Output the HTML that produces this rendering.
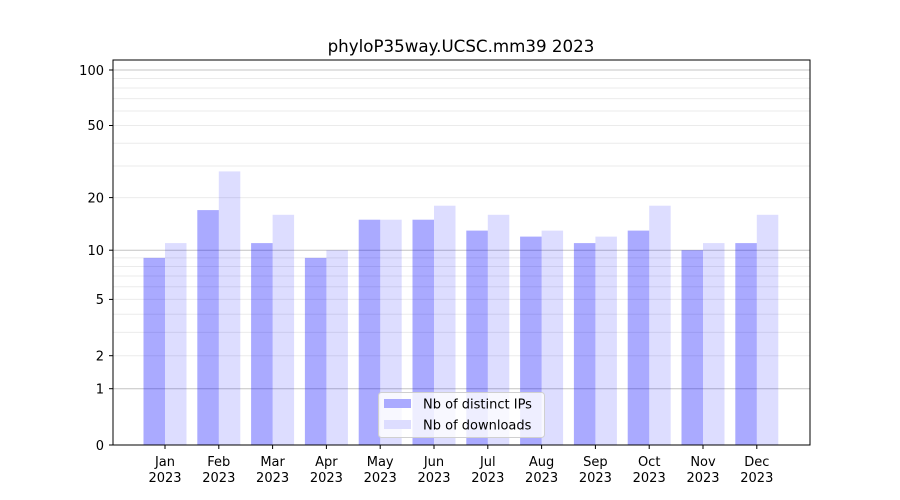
<!DOCTYPE html>
<html><head><meta charset="utf-8"><style>body{margin:0;background:#fff}svg{display:block;font-family:"DejaVu Sans","Liberation Sans",sans-serif}</style></head><body>
<svg width="900" height="500" viewBox="0 0 900 500">
<rect width="900" height="500" fill="#fff"/>
<g stroke="#ebebeb" stroke-width="1">
<line x1="113" x2="810" y1="355.7" y2="355.7"/><line x1="113" x2="810" y1="332.4" y2="332.4"/><line x1="113" x2="810" y1="314.2" y2="314.2"/><line x1="113" x2="810" y1="299.4" y2="299.4"/><line x1="113" x2="810" y1="286.8" y2="286.8"/><line x1="113" x2="810" y1="276" y2="276"/><line x1="113" x2="810" y1="266.5" y2="266.5"/><line x1="113" x2="810" y1="257.9" y2="257.9"/>
<line x1="113" x2="810" y1="197.6" y2="197.6"/><line x1="113" x2="810" y1="166" y2="166"/><line x1="113" x2="810" y1="143.2" y2="143.2"/><line x1="113" x2="810" y1="125.5" y2="125.5"/><line x1="113" x2="810" y1="111" y2="111"/><line x1="113" x2="810" y1="98.6" y2="98.6"/><line x1="113" x2="810" y1="88" y2="88"/><line x1="113" x2="810" y1="78.5" y2="78.5"/>
</g>
<g stroke="#c4c4c4" stroke-width="1"><line x1="113" x2="810" y1="388.7" y2="388.7"/><line x1="113" x2="810" y1="250.2" y2="250.2"/><line x1="113" x2="810" y1="70" y2="70"/></g>
<g fill="#0000ff" fill-opacity="0.333">
<rect x="143.5" y="257.9" width="21.5" height="187.1"/>
<rect x="197.3" y="210.1" width="21.5" height="234.9"/>
<rect x="251.1" y="243.1" width="21.5" height="201.9"/>
<rect x="304.9" y="257.9" width="21.5" height="187.1"/>
<rect x="358.7" y="219.7" width="21.5" height="225.3"/>
<rect x="412.5" y="219.7" width="21.5" height="225.3"/>
<rect x="466.3" y="230.6" width="21.5" height="214.4"/>
<rect x="520.1" y="236.6" width="21.5" height="208.4"/>
<rect x="573.9" y="243.1" width="21.5" height="201.9"/>
<rect x="627.7" y="230.6" width="21.5" height="214.4"/>
<rect x="681.5" y="250.2" width="21.5" height="194.8"/>
<rect x="735.3" y="243.1" width="21.5" height="201.9"/>
</g>
<g fill="#0000ff" fill-opacity="0.135">
<rect x="165" y="243.1" width="21.5" height="201.9"/>
<rect x="218.8" y="171.4" width="21.5" height="273.6"/>
<rect x="272.6" y="214.8" width="21.5" height="230.2"/>
<rect x="326.4" y="250.2" width="21.5" height="194.8"/>
<rect x="380.2" y="219.7" width="21.5" height="225.3"/>
<rect x="434" y="205.7" width="21.5" height="239.3"/>
<rect x="487.8" y="214.8" width="21.5" height="230.2"/>
<rect x="541.6" y="230.6" width="21.5" height="214.4"/>
<rect x="595.4" y="236.6" width="21.5" height="208.4"/>
<rect x="649.2" y="205.7" width="21.5" height="239.3"/>
<rect x="703" y="243.1" width="21.5" height="201.9"/>
<rect x="756.8" y="214.8" width="21.5" height="230.2"/>
</g>
<rect x="113" y="60" width="697" height="385" fill="none" stroke="#000" stroke-width="1"/>
<g stroke="#000"><line x1="109" x2="113" y1="445" y2="445"/><line x1="109" x2="113" y1="388.7" y2="388.7"/><line x1="109" x2="113" y1="355.7" y2="355.7"/><line x1="109" x2="113" y1="299.4" y2="299.4"/><line x1="109" x2="113" y1="250.2" y2="250.2"/><line x1="109" x2="113" y1="197.6" y2="197.6"/><line x1="109" x2="113" y1="125.5" y2="125.5"/><line x1="109" x2="113" y1="70" y2="70"/>
<line x1="165" x2="165" y1="445" y2="449"/><line x1="218.8" x2="218.8" y1="445" y2="449"/><line x1="272.6" x2="272.6" y1="445" y2="449"/><line x1="326.4" x2="326.4" y1="445" y2="449"/><line x1="380.2" x2="380.2" y1="445" y2="449"/><line x1="434" x2="434" y1="445" y2="449"/><line x1="487.8" x2="487.8" y1="445" y2="449"/><line x1="541.6" x2="541.6" y1="445" y2="449"/><line x1="595.4" x2="595.4" y1="445" y2="449"/><line x1="649.2" x2="649.2" y1="445" y2="449"/><line x1="703" x2="703" y1="445" y2="449"/><line x1="756.8" x2="756.8" y1="445" y2="449"/></g>
<g font-size="13" text-anchor="end" fill="#000"><text x="104" y="450">0</text><text x="104" y="393.5">1</text><text x="104" y="360.5">2</text><text x="104" y="304">5</text><text x="104" y="255">10</text><text x="104" y="202.5">20</text><text x="104" y="130">50</text><text x="104" y="75">100</text></g>
<g font-size="13" text-anchor="middle" fill="#000">
<text x="165" y="466">Jan</text><text x="165" y="482">2023</text>
<text x="218.8" y="466">Feb</text><text x="218.8" y="482">2023</text>
<text x="272.6" y="466">Mar</text><text x="272.6" y="482">2023</text>
<text x="326.4" y="466">Apr</text><text x="326.4" y="482">2023</text>
<text x="380.2" y="466">May</text><text x="380.2" y="482">2023</text>
<text x="434" y="466">Jun</text><text x="434" y="482">2023</text>
<text x="487.8" y="466">Jul</text><text x="487.8" y="482">2023</text>
<text x="541.6" y="466">Aug</text><text x="541.6" y="482">2023</text>
<text x="595.4" y="466">Sep</text><text x="595.4" y="482">2023</text>
<text x="649.2" y="466">Oct</text><text x="649.2" y="482">2023</text>
<text x="703" y="466">Nov</text><text x="703" y="482">2023</text>
<text x="756.8" y="466">Dec</text><text x="756.8" y="482">2023</text>
<text x="461" y="52" font-size="16.7">phyloP35way.UCSC.mm39 2023</text>
</g>
<rect x="378.5" y="392.5" width="166" height="45" rx="3" fill="#fff" fill-opacity="0.8" stroke="#d0d0d0"/>
<rect x="384" y="399" width="27" height="9" fill="#aaaaff"/>
<rect x="384" y="420" width="27" height="9" fill="#ddddff"/>
<g font-size="13" fill="#000"><text x="423" y="408.5">Nb of distinct IPs</text><text x="423" y="429.5">Nb of downloads</text></g>
</svg>
</body></html>
